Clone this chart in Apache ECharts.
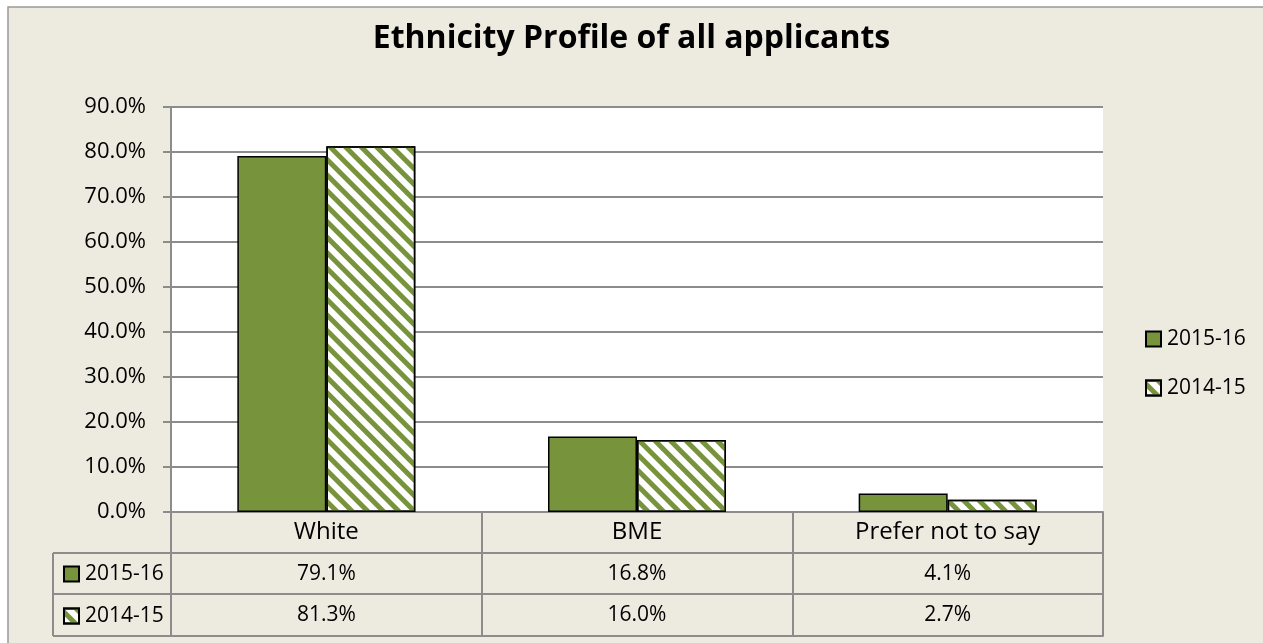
<!DOCTYPE html>
<html>
<head>
<meta charset="utf-8">
<title>Ethnicity Profile of all applicants</title>
<script src="https://cdn.jsdelivr.net/npm/echarts@6/dist/echarts.min.js"></script>
<style>
  html, body { margin: 0; padding: 0; background: #fff; }
  #chart { width: 1263px; height: 643px; }
</style>
</head>
<body>
<div id="chart"></div>
<script>
// chart data
const categories = ['White', 'BME', 'Prefer not to say']
const seriesNames = ['2015-16', '2014-15']
const values2015 = [79.1, 16.8, 4.1]
const values2014 = [81.3, 16.0, 2.7]
const yMin = 0
const yMax = 90
const yStep = 10

const FONT = 'Open Sans'
const GREEN = '#77933C'
const LINE = '#8c8c8c'
const BG = '#EDEBE0'

// layout
const gridLeft = 171
const gridRight = 1103
const gridTop = 107
const gridBottom = 512
const rowOffsets = [41, 82, 124]
const headerLeft = 53

const pct = v => v.toFixed(1) + '%'

const lineStyle = { color: LINE, width: 2 }

const tableAxis = (data, offset, showLabel) => ({
  type: 'category',
  position: 'bottom',
  offset: offset,
  data: data,
  axisLine: { show: true, lineStyle },
  axisTick: { show: false },
  axisLabel: {
    show: showLabel,
    margin: 9,
    color: '#000',
    fontFamily: FONT,
    fontSize: 21,
    lineHeight: 24
  },
  splitLine: { show: false }
})

const legendBase = {
  data: seriesNames,
  orient: 'vertical',
  icon: 'rect',
  itemWidth: 15,
  itemHeight: 15,
  selectedMode: false,
  textStyle: { fontFamily: FONT, fontSize: 21, lineHeight: 22, color: '#000', padding: [0, 0, 0, 1] }
}

const tableLines = rowOffsets.map(off => ({
  type: 'line',
  shape: { x1: headerLeft, y1: gridBottom + off, x2: gridLeft, y2: gridBottom + off },
  style: { stroke: LINE, lineWidth: 2 }
}))
tableLines.push({
  type: 'line',
  shape: { x1: headerLeft, y1: gridBottom + rowOffsets[0], x2: headerLeft, y2: gridBottom + rowOffsets[2] },
  style: { stroke: LINE, lineWidth: 2 }
})

const chart = echarts.init(document.getElementById('chart'))

chart.setOption({
  animation: false,
  backgroundColor: BG,
  title: {
    text: 'Ethnicity Profile of all applicants',
    left: 'center',
    top: 18,
    textStyle: { fontFamily: FONT, fontSize: 32, fontWeight: 'bold', color: '#000' }
  },
  legend: [
    Object.assign({}, legendBase, { left: 1140, top: 323, itemGap: 27 }),
    Object.assign({}, legendBase, { left: 58, top: 558, itemGap: 20 })
  ],
  grid: {
    left: gridLeft,
    right: 1263 - gridRight,
    top: gridTop,
    bottom: 643 - gridBottom,
    show: true,
    backgroundColor: '#fff',
    borderWidth: 0
  },
  xAxis: [
    {
      type: 'category',
      position: 'bottom',
      data: categories,
      axisLine: { show: true, lineStyle },
      axisTick: { show: true, length: rowOffsets[2], alignWithLabel: false, lineStyle },
      axisLabel: {
        margin: 8,
        color: '#000',
        fontFamily: FONT,
        fontSize: 24,
        lineHeight: 24
      },
      splitLine: { show: false }
    },
    tableAxis(values2015.map(pct), rowOffsets[0], true),
    tableAxis(values2014.map(pct), rowOffsets[1], true),
    tableAxis(categories, rowOffsets[2], false)
  ],
  yAxis: {
    type: 'value',
    min: yMin,
    max: yMax,
    interval: yStep,
    axisLine: { show: true, lineStyle },
    axisTick: { show: true, length: 8, lineStyle },
    axisLabel: {
      margin: 25,
      color: '#000',
      fontFamily: FONT,
      fontSize: 22,
      formatter: v => pct(v)
    },
    splitLine: { lineStyle }
  },
  series: [
    {
      name: seriesNames[0],
      type: 'bar',
      xAxisIndex: 0,
      data: values2015,
      barWidth: 89,
      barGap: '0%',
      itemStyle: { color: GREEN, borderColor: '#000', borderWidth: 1.5 }
    },
    {
      name: seriesNames[1],
      type: 'bar',
      xAxisIndex: 0,
      data: values2014,
      barWidth: 89,
      barGap: '0%',
      itemStyle: {
        color: '#fff',
        borderColor: '#000',
        borderWidth: 1.5,
        decal: {
          symbol: 'rect',
          symbolSize: 1,
          color: GREEN,
          dashArrayX: [1, 0],
          dashArrayY: [5, 6],
          rotation: Math.PI / 4
        }
      }
    }
  ],
  graphic: [
    { type: 'rect', shape: { x: 0, y: 0, width: 1263, height: 7 }, style: { fill: '#fff' } },
    { type: 'rect', shape: { x: 0, y: 0, width: 8, height: 643 }, style: { fill: '#fff' } },
    { type: 'polyline', shape: { points: [[8, 643], [8, 7], [1263, 7]] }, style: { stroke: '#999', lineWidth: 1.5, fill: null } }
  ].concat(tableLines)
})

window.addEventListener('resize', () => chart.resize())
</script>
</body>
</html>
